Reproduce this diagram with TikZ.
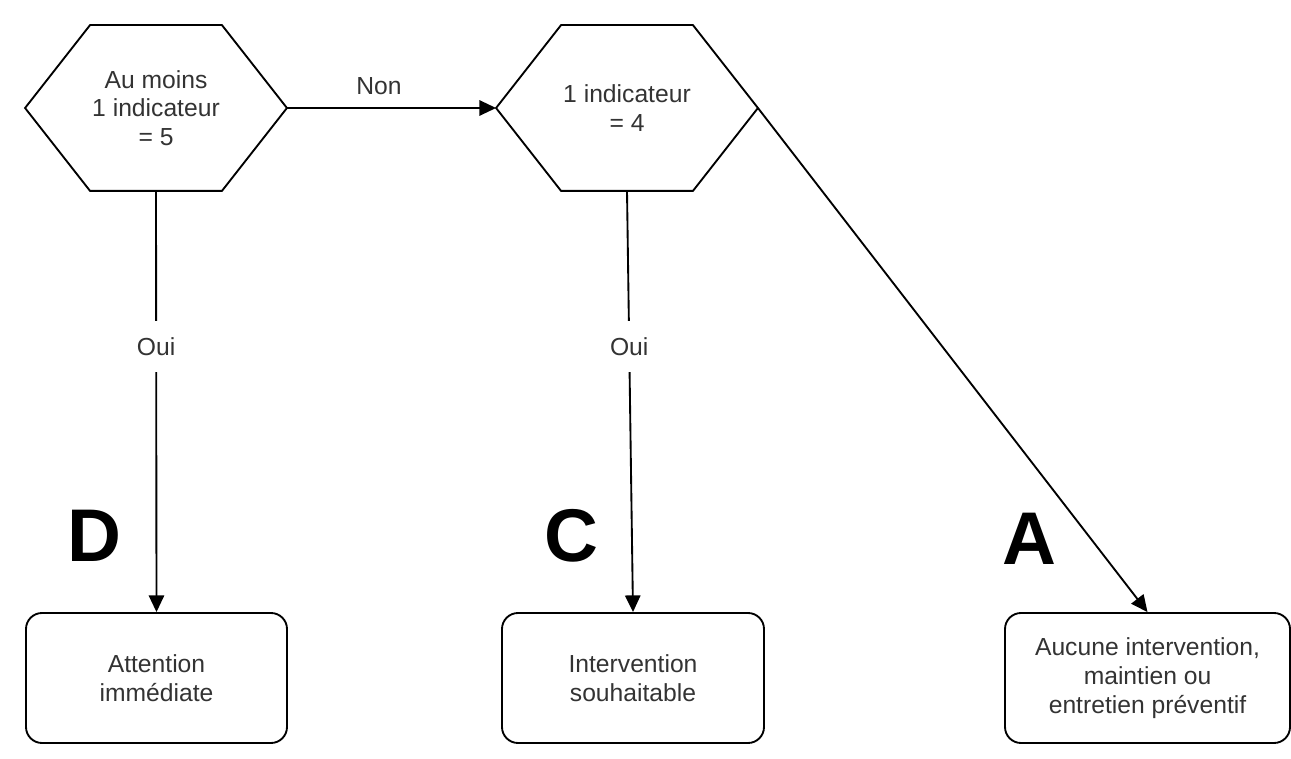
\documentclass[tikz,border=0pt]{standalone}
\usepackage{fontspec}
\setmainfont{Liberation Sans}
\usetikzlibrary{arrows.meta}

\newcommand\hexa[1]{%
  \draw (#1.west) -- ([xshift=48.75pt]#1.north west) -- ([xshift=-48.75pt]#1.north east)
    -- (#1.east) -- ([xshift=-48.75pt]#1.south east) -- ([xshift=48.75pt]#1.south west) -- cycle;}

\begin{document}
\begin{tikzpicture}[x=0.75pt, y=-0.75pt, line width=1.4pt,
  txt/.style={font=\fontsize{18.5}{21.5}\selectfont, text=black!80, align=center},
  test/.style={txt, minimum width=195pt, minimum height=123pt, inner sep=0pt},
  issue/.style={txt, draw, rounded corners=12pt, minimum height=97.5pt},
  oui/.style={txt, fill=white, inner xsep=2pt, inner ysep=12.5pt},
  grade/.style={font=\fontsize{56}{56}\selectfont\bfseries},
  fleche/.style={-{Triangle[length=12.5pt, width=11.5pt]}}]
  \useasboundingbox (0,0) rectangle (1291,759);

  \node[test] (cinq) at (156,108) {Au moins\\1 indicateur\\= 5};
  \node[test] (quatre) at (627,108) {1 indicateur\\= 4};
  \hexa{cinq}
  \hexa{quatre}

  \node[issue, minimum width=195.75pt] (resD) at (156.5,678) {Attention\\immédiate};
  \node[issue, minimum width=196.5pt] (resC) at (633,678) {Intervention\\souhaitable};
  \node[issue, minimum width=213.75pt] (resA) at (1147.5,678) {Aucune intervention,\\maintien ou\\entretien préventif};

  \node[grade] (lD) at (94,536) {D};
  \node[grade] (lC) at (571,536) {C};
  \node[grade] (lA) at (1029,539) {A};

  \draw[fleche] (cinq.east) -- node[txt, pos=0.44, above=6pt] {Non} (quatre.west);
  \draw[fleche] (cinq.south) -- node[oui, pos=0.37] {Oui} (resD.north);
  \draw[fleche] (quatre.south) -- node[oui, pos=0.37] {Oui} (resC.north);
  \draw[fleche] (quatre.east) -- (resA.north);
\end{tikzpicture}
\end{document}
